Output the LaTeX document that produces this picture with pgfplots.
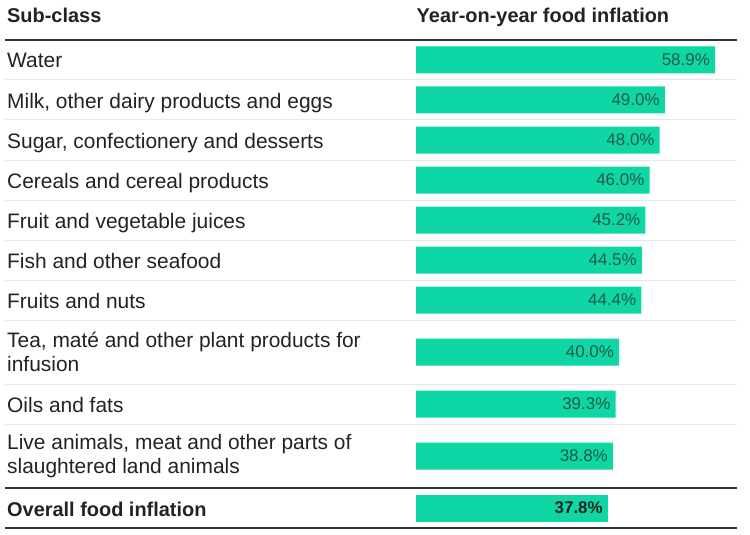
\documentclass[border=0pt]{standalone}
\usepackage{fontspec}
\setmainfont{Liberation Sans}
\usepackage{pgfplots}
\pgfplotsset{compat=1.18}

\definecolor{barteal}{HTML}{0ED7A5}
\definecolor{valtxt}{HTML}{1E5A48}
\definecolor{rowtxt}{HTML}{222222}
\definecolor{rulegray}{HTML}{E8E8E8}
\definecolor{ruledark}{HTML}{333333}

% y is in picture pixels (row centres), x in percent
\pgfplotstableread{
val  y
58.9 60
49.0 100
48.0 140
46.0 180
45.2 220
44.5 260
44.4 300
40.0 352
39.3 404
38.8 456
}\subclasses

\pgfplotstableread{
val  y
37.8 508
}\overall

\newcommand{\rowfont}{\fontsize{21}{24}\selectfont}
\newcommand{\headfont}{\fontsize{20}{24}\selectfont\bfseries}
\newcommand{\valfont}{\fontsize{17}{20}\selectfont}

\begin{document}
\begin{tikzpicture}
\begin{axis}[
  width=750bp, height=535bp,
  scale only axis,
  xmin=-81.95, xmax=65.79,
  ymin=0, ymax=535,
  y dir=reverse,
  axis lines=none,
  ticks=none,
  clip=false,
  xbar,
  bar width=27,
  bar shift=0pt,
  point meta=x,
  nodes near coords={\pgfmathprintnumber[fixed,fixed zerofill,precision=1,assume math mode=true]{\pgfplotspointmeta}\%},
  nodes near coords style={anchor=east, xshift=-5bp, inner sep=0pt,
    font=\valfont, text=valtxt},
]
  % keep the page the size of the axis
  \path (rel axis cs:0,0) rectangle (rel axis cs:1,1);

  % rules
  \draw[rulegray, line width=1bp]
    (axis cs:-80.96,80) -- (axis cs:63.23,80)
    (axis cs:-80.96,120) -- (axis cs:63.23,120)
    (axis cs:-80.96,160) -- (axis cs:63.23,160)
    (axis cs:-80.96,200) -- (axis cs:63.23,200)
    (axis cs:-80.96,240) -- (axis cs:63.23,240)
    (axis cs:-80.96,280) -- (axis cs:63.23,280)
    (axis cs:-80.96,320) -- (axis cs:63.23,320)
    (axis cs:-80.96,384) -- (axis cs:63.23,384)
    (axis cs:-80.96,424) -- (axis cs:63.23,424);
  \draw[ruledark, line width=2bp] (axis cs:-80.96,40) -- (axis cs:63.23,40);
  \draw[ruledark, line width=1.5bp]
    (axis cs:-80.96,488) -- (axis cs:63.23,488)
    (axis cs:-80.96,528) -- (axis cs:63.23,528);

  \addplot[draw=none, fill=barteal] table[x=val, y=y] {\subclasses};
  \addplot[draw=none, fill=barteal,
    nodes near coords style={font=\valfont\bfseries, text=rowtxt}]
    table[x=val, y=y] {\overall};

  % headers
  \node[anchor=base west, inner sep=0pt, font=\headfont, text=rowtxt]
    at (axis cs:-80.57,23) {Sub-class};
  \node[anchor=base west, inner sep=0pt, font=\headfont, text=rowtxt]
    at (axis cs:0.1,23) {Year-on-year food inflation};

  % row labels (base of a two-line node is its last line)
  \begin{scope}[every node/.style={anchor=base west, inner sep=0pt,
      font=\rowfont, text=rowtxt, align=left}]
    \node at (axis cs:-80.57,68) {Water};
    \node at (axis cs:-80.57,108) {Milk, other dairy products and eggs};
    \node at (axis cs:-80.57,148) {Sugar, confectionery and desserts};
    \node at (axis cs:-80.57,188) {Cereals and cereal products};
    \node at (axis cs:-80.57,228) {Fruit and vegetable juices};
    \node at (axis cs:-80.57,268) {Fish and other seafood};
    \node at (axis cs:-80.57,308) {Fruits and nuts};
    \node at (axis cs:-80.57,371) {Tea, maté and other plant products for\\infusion};
    \node at (axis cs:-80.57,412) {Oils and fats};
    \node at (axis cs:-80.57,473) {Live animals, meat and other parts of\\slaughtered land animals};
    \node[font=\headfont] at (axis cs:-80.57,516) {Overall food inflation};
  \end{scope}
\end{axis}
\end{tikzpicture}
\end{document}
